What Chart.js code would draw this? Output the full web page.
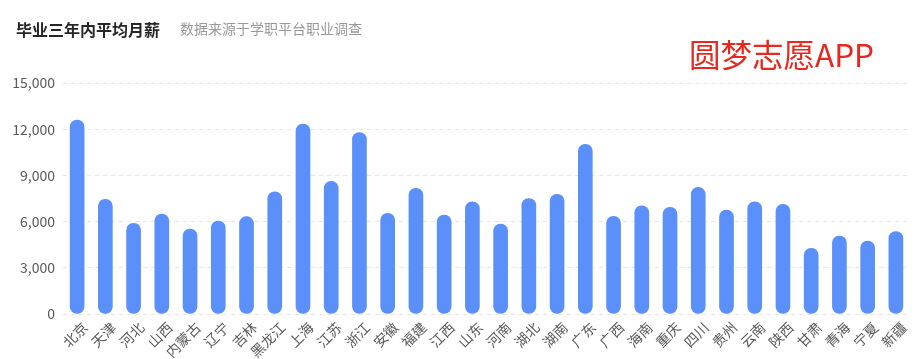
<!DOCTYPE html>
<html><head><meta charset="utf-8">
<script src="https://cdn.jsdelivr.net/npm/chart.js@4/dist/chart.umd.min.js"></script>
<style>
html,body{margin:0;padding:0;background:#fff;width:924px;height:359px;overflow:hidden;font-family:"Noto Sans CJK SC","Noto Sans",sans-serif;}
#wrap{position:relative;width:924px;height:359px;}
#title{position:absolute;left:16px;top:17px;font-size:16px;font-weight:bold;color:#262626;white-space:nowrap;}
#sub{position:absolute;left:180px;top:18px;font-size:14px;color:#999;white-space:nowrap;}
#mark{position:absolute;left:689px;top:35px;font-size:31.5px;color:#e8281e;white-space:nowrap;line-height:1.2;}
canvas{position:absolute;left:0;top:0;}
</style></head>
<body><div id="wrap">
<canvas id="c" width="924" height="359"></canvas>
<div id="title">毕业三年内平均月薪</div>
<div id="sub">数据来源于学职平台职业调查</div>
<div id="mark">圆梦志愿APP</div>
</div>
<script>
const provinces = ["北京","天津","河北","山西","内蒙古","辽宁","吉林","黑龙江","上海","江苏","浙江","安徽","福建","江西","山东","河南","湖北","湖南","广东","广西","海南","重庆","四川","贵州","云南","陕西","甘肃","青海","宁夏","新疆"];
const salary = [12600,7450,5890,6490,5520,6040,6320,7940,12340,8610,11780,6540,8160,6430,7290,5840,7490,7770,11020,6340,7030,6930,8220,6750,7290,7120,4260,5060,4740,5350];
const yTicks = [0,3000,6000,9000,12000,15000];

new Chart(document.getElementById('c'), {
  type: 'bar',
  data: {
    labels: provinces,
    datasets: [{
      data: salary,
      backgroundColor: '#5B8FF9',
      borderRadius: 7,
      borderSkipped: false,
      barThickness: 14
    }]
  },
  options: {
    responsive: false,
    animation: false,
    layout: { padding: { top: 83, right: 14, left: 0, bottom: 0 } },
    plugins: { legend: { display: false }, tooltip: { enabled: false } },
    scales: {
      x: {
        grid: { display: false },
        border: { display: false },
        ticks: {
          minRotation: 45, maxRotation: 45, autoSkip: false,
          color: '#595959',
          font: { family: '"Noto Sans CJK SC"', size: 14 },
          padding: -3,
          labelOffset: 8
        },
        afterFit: s => { s.height = 45; }
      },
      y: {
        min: 0, max: 15000,
        afterBuildTicks: s => { s.ticks = yTicks.map(v => ({ value: v })); },
        grid: { color: '#e6e6e6', drawTicks: false },
        border: { display: false, dash: [4, 4] },
        ticks: {
          color: '#595959',
          font: { family: '"Noto Sans CJK SC"', size: 14 },
          padding: 8,
          callback: v => v.toLocaleString('en-US')
        },
        afterFit: s => { s.width = 63; }
      }
    }
  }
});
</script>
</body></html>
